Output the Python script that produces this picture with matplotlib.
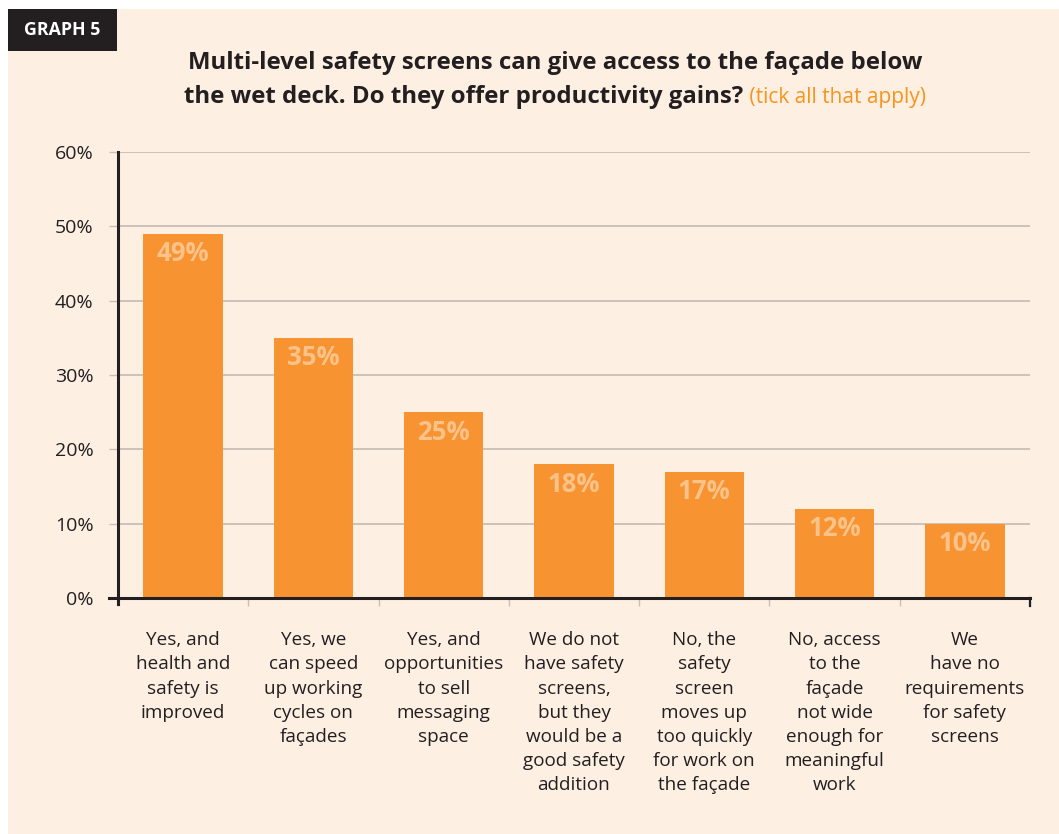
import matplotlib
matplotlib.use("Agg")
import matplotlib.pyplot as plt
from matplotlib.patches import Rectangle
from matplotlib.ticker import FuncFormatter

# Survey answers and share of respondents (%)
categories = [
    "Yes, and\nhealth and\nsafety is\nimproved",
    "Yes, we\ncan speed\nup working\ncycles on\nfaçades",
    "Yes, and\nopportunities\nto sell\nmessaging\nspace",
    "We do not\nhave safety\nscreens,\nbut they\nwould be a\ngood safety\naddition",
    "No, the\nsafety\nscreen\nmoves up\ntoo quickly\nfor work on\nthe façade",
    "No, access\nto the\nfaçade\nnot wide\nenough for\nmeaningful\nwork",
    "We\nhave no\nrequirements\nfor safety\nscreens",
]
values = [49, 35, 25, 18, 17, 12, 10]
y_ticks = [0, 10, 20, 30, 40, 50, 60]

title_line1 = "Multi-level safety screens can give access to the façade below"
title_line2 = "the wet deck. Do they offer productivity gains?"
title_note = " (tick all that apply)"
badge = "GRAPH 5"

CREAM = "#FDF0E3"
ORANGE = "#F79431"
LIGHT = "#FBC28A"
DARK = "#231F20"
GRID = "#C9BFB6"
FONT = "Open Sans"

W, H = 1059, 834
fig = plt.figure(figsize=(W / 100, H / 100), dpi=100)
fig.patch.set_facecolor("white")

# cream panel and black badge
fig.add_artist(Rectangle((8 / W, 0), 1, 1 - 9 / H, transform=fig.transFigure,
                         facecolor=CREAM, edgecolor="none", zorder=0))
fig.add_artist(Rectangle((8 / W, 1 - 51 / H), 109 / W, 42 / H, transform=fig.transFigure,
                         facecolor=DARK, edgecolor="none", zorder=1))
fig.text(62 / W, 1 - 30 / H, badge, ha="center", va="center", color="white",
         fontsize=12.8, fontweight="bold", family=FONT, zorder=2)

ax = fig.add_axes([118 / W, 1 - 598 / H, (1030 - 118) / W, (598 - 152) / H])
ax.set_facecolor("none")
n = len(categories)
x = list(range(n))
ax.bar(x, values, width=0.61, color=ORANGE, zorder=2)
ax.set_xlim(-0.5, n - 0.5)
ax.set_ylim(0, 60)

for xi, v in zip(x, values):
    ax.annotate(f"{v}%", (xi, v), xytext=(0, -14.5), textcoords="offset points",
                ha="center", va="center", color=LIGHT, fontsize=18.5,
                fontweight="bold", family=FONT, zorder=3)

# gridlines extend left of the spine as tick marks
ax.set_yticks(y_ticks)
ax.yaxis.set_major_formatter(FuncFormatter(lambda v, p: f"{int(v)}%"))
ax.tick_params(axis="y", length=6.5, width=1.0, color=GRID, pad=11,
               labelsize=14, labelcolor=DARK)
for lbl in ax.get_yticklabels():
    lbl.set_family(FONT)
ax.grid(axis="y", color=GRID, linewidth=1.3, zorder=1)
ax.set_axisbelow(True)

ax.set_xticks([i + 0.5 for i in range(-1, n)], minor=True)
ax.set_xticks(x)
ax.set_xticklabels(categories, fontsize=13.6, color=DARK, family=FONT,
                   linespacing=1.44, va="top")
ax.tick_params(axis="x", which="major", length=0, pad=24)
ax.tick_params(axis="x", which="minor", length=6, width=1.0, color=GRID)

for s in ("top", "right"):
    ax.spines[s].set_visible(False)
for s in ("left", "bottom"):
    ax.spines[s].set_color(DARK)
    ax.spines[s].set_linewidth(2.2)
    ax.spines[s].set_zorder(4)
ax.spines["left"].set_bounds(-0.8, 60)
ax.spines["bottom"].set_bounds(-0.5 - 9 / 130, n - 0.5)
ax.plot([n - 0.5, n - 0.5], [0, -1.1], color=DARK, lw=1.6, clip_on=False, zorder=4)

# two-line title, second line mixes bold and orange note
cx = 555 / W
fig.text(cx, 1 - 63 / H, title_line1, ha="center", va="center", fontsize=17.3,
         fontweight="bold", color=DARK, family=FONT)
t_bold = fig.text(0, 1 - 97 / H, title_line2, ha="left", va="center", fontsize=17.3,
                  fontweight="bold", color=DARK, family=FONT)
t_note = fig.text(0, 1 - 97 / H, title_note, ha="left", va="center", fontsize=15,
                  color="#F7941D", family=FONT)
fig.canvas.draw()
r = fig.canvas.get_renderer()
wb = t_bold.get_window_extent(r).width / W
wn = t_note.get_window_extent(r).width / W
x0 = cx - (wb + wn) / 2
t_bold.set_x(x0)
t_note.set_x(x0 + wb)

fig.savefig("out.png", dpi=100, facecolor=fig.get_facecolor())
